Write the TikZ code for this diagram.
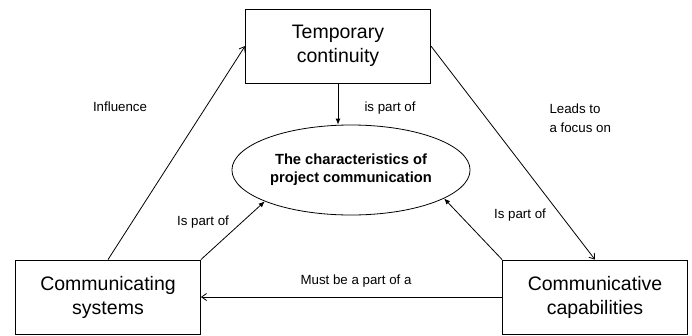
\documentclass[tikz,border=0pt]{standalone}
\usepackage{fontspec}
\setmainfont{Liberation Sans}
\usetikzlibrary{shapes.geometric,arrows.meta}

\begin{document}
\begin{tikzpicture}
		[x=1pt, y=-1pt,
		every node/.style={ },
		conceptbox/.style={draw, line width=0.8pt, minimum width=185pt, minimum height=74pt, align=center, font=\fontsize{19.5}{24}\selectfont},
		centreell/.style={draw, ellipse, line width=0.8pt, minimum width=212pt, minimum height=90pt, align=center, font=\fontsize{14.7}{18}\selectfont\bfseries},
		lbl/.style={font=\fontsize{13.3}{19}\selectfont},
		openarrow/.style={line width=0.8pt, -{Straight Barb[length=5pt,width=7pt]}},
		fullarrow/.style={line width=0.8pt, -{Latex[length=6pt,width=5pt]}}
		]
		\useasboundingbox (0,0) rectangle (692,335);
		\begin{scope}
			\node[conceptbox] (TC) at (338, 46) {Temporary\\continuity};
			\node[centreell] (char) at (351, 170) {The characteristics of\\project communication};
			\node[conceptbox] (CS) at (108, 297) {Communicating\\systems};
			\node[conceptbox] (CC) at (595, 297) {Communicative\\capabilities};
		\end{scope}
		\draw[openarrow] (CS.north) -- (TC.west);
		\draw[openarrow] (TC.east) -- (CC.north);
		\draw[openarrow] (CC.west) -- (CS.east);
		\draw[fullarrow] (TC.south) -- (TC.south |- char.north);
		\draw[fullarrow] (CS.north east) -- (char.200);
		\draw[fullarrow] (CC.north west) -- (char.343);
		% labels
		\node[lbl] (influence) at (120, 107) {Influence};
		\node[lbl] (partTop) at (390, 108) {is part of};
		\node[lbl, align=left, anchor=west] (leads) at (546, 118) {Leads to\\a focus on};
		\node[lbl] (partLeft) at (203, 222) {Is part of};
		\node[lbl] (partRight) at (520, 215) {Is part of};
		\node[lbl] (mustbe) at (356, 281) {Must be a part of a};
	\end{tikzpicture}
\end{document}
